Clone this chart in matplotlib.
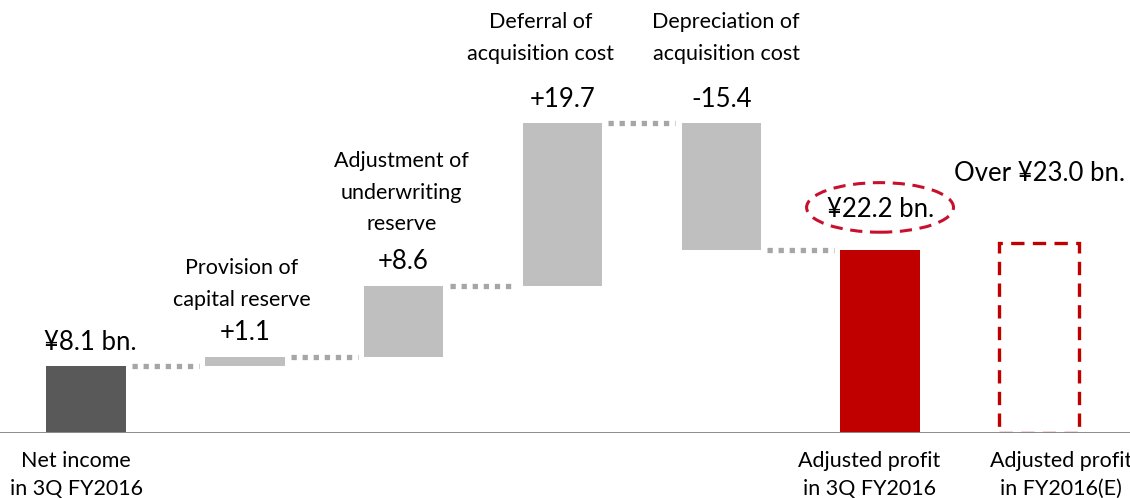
import matplotlib.pyplot as plt
from matplotlib.patches import Ellipse, Rectangle

plt.rcParams['font.family'] = ['Lato', 'DejaVu Sans']

# waterfall steps (¥ bn)
start_value = 8.1
steps = [1.1, 8.6, 19.7, -15.4]
adjusted_profit = 22.2
forecast = 23.0

step_names = ['Provision of\ncapital reserve',
              'Adjustment of\nunderwriting\nreserve',
              'Deferral of\nacquisition cost',
              'Depreciation of\nacquisition cost']
step_labels = ['+1.1', '+8.6', '+19.7', '-15.4']
bottom_names = ['Net income\nin 3Q FY2016', 'Adjusted profit\nin 3Q FY2016',
                'Adjusted profit\nin FY2016(E)']

fig = plt.figure(figsize=(11.3, 4.98), dpi=100)
ax = fig.add_axes([0, 0.1305, 1, 0.8695])
ax.set_xlim(-0.5416, 6.574)
ax.set_ylim(0, 52.4)
ax.axis('off')

w = 0.5
grey = '#BFBFBF'
red = '#C00000'

# first bar
ax.bar(0, start_value, width=w, color='#595959')
levels = [start_value]
level = start_value
for i, s in enumerate(steps):
    x = i + 1
    lo = level if s > 0 else level + s
    ax.bar(x, abs(s), bottom=lo, width=w, color=grey)
    level += s
    levels.append(level)

ax.bar(5, adjusted_profit, width=w, color=red)
ax.add_patch(Rectangle((6 - w / 2, 0), w, forecast, fill=False, edgecolor=red,
                       lw=2.4, ls=(0, (4, 2.5))))

# dotted connectors at the running total
for i in range(5):
    ax.plot([i + w / 2 + 0.04, i + 1 - w / 2 - 0.04], [levels[i]] * 2,
            color='#A6A6A6', lw=3.8, ls=(0, (1, 1.1)), solid_capstyle='butt',
            dash_capstyle='butt')

# baseline
ax.axhline(0, color='#8C8C8C', lw=1.4)

big = 18.5
small = 15.5
px = 'offset pixels'

ax.annotate('¥8.1 bn.', (0, start_value), xytext=(4, 24), textcoords=px,
            ha='center', va='center', fontsize=big)

tops = [max(levels[i], levels[i + 1]) for i in range(4)]
name_dx = [-3, -2, -22, 5]
name_dy = [73, 93, 85, 85]
for i in range(4):
    x = i + 1
    ax.annotate(step_labels[i], (x, tops[i]), xytext=(0, 24), textcoords=px,
                ha='center', va='center', fontsize=big)
    ax.annotate(step_names[i], (x, tops[i]), xytext=(name_dx[i], name_dy[i]), textcoords=px,
                ha='center', va='center', fontsize=small, linespacing=1.72)

ax.annotate('¥22.2 bn.', (5, adjusted_profit), xytext=(1, 40), textcoords=px,
            ha='center', va='center', fontsize=big)
ax.add_patch(Ellipse((5, adjusted_profit + 5.1), 0.925, 6.0, fill=False, edgecolor='#C8102E',
                     lw=2.2, ls=(0, (4, 2.5))))
ax.annotate('Over ¥23.0 bn.', (6, forecast), xytext=(1, 69), textcoords=px,
            ha='center', va='center', fontsize=big)

# category labels under the axis
for x, name, dx in zip([0, 5, 6], bottom_names, [-10, -11, 22]):
    ax.annotate(name, (x, 0), xytext=(dx, -42), textcoords=px,
                ha='center', va='center', fontsize=small, linespacing=1.5,
                annotation_clip=False)

fig.savefig('out.png', dpi=100)
